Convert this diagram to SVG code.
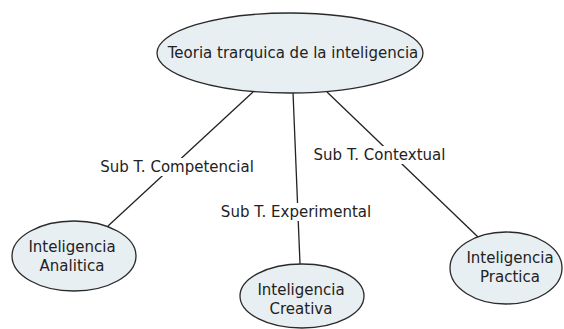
<svg xmlns="http://www.w3.org/2000/svg" width="564" height="329" viewBox="0 0 564 329">
<style>
.node ellipse{fill:#e8eff2;stroke:#2a2a2a;stroke-width:1.3}
text{font-family:"DejaVu Sans",Verdana,sans-serif;font-size:15px;fill:#222;text-anchor:middle;dominant-baseline:central}
.conn line{stroke:#222;stroke-width:1.3}
.lbl rect{fill:#fff}
</style>
<rect width="564" height="329" fill="#fff"/>
<g id="connectors" class="conn">
<line x1="253" y1="92" x2="108" y2="226"/>
<line x1="293" y1="92" x2="300" y2="264"/>
<line x1="327" y1="92" x2="478" y2="237"/>
</g>
<g id="labels" class="lbl">
<rect x="100" y="158" width="154" height="18"/>
<text x="177" y="167">Sub T. Competencial</text>
<rect x="221" y="203" width="150" height="18"/>
<text x="296" y="212">Sub T. Experimental</text>
<rect x="312" y="146" width="135" height="18"/>
<text x="379.5" y="155">Sub T. Contextual</text>
</g>
<g id="n-root" class="node">
<ellipse cx="290" cy="53" rx="133" ry="40"/>
<text x="293" y="53">Teoria trarquica de la inteligencia</text>
</g>
<g id="n-analitica" class="node">
<ellipse cx="74" cy="256" rx="62" ry="35"/>
<text x="72" y="247">Inteligencia</text>
<text x="72" y="266">Analitica</text>
</g>
<g id="n-creativa" class="node">
<ellipse cx="302" cy="296" rx="62" ry="32"/>
<text x="301" y="290">Inteligencia</text>
<text x="301" y="309">Creativa</text>
</g>
<g id="n-practica" class="node">
<ellipse cx="506" cy="268" rx="56" ry="36"/>
<text x="510" y="258">Inteligencia</text>
<text x="510" y="277">Practica</text>
</g>
</svg>
